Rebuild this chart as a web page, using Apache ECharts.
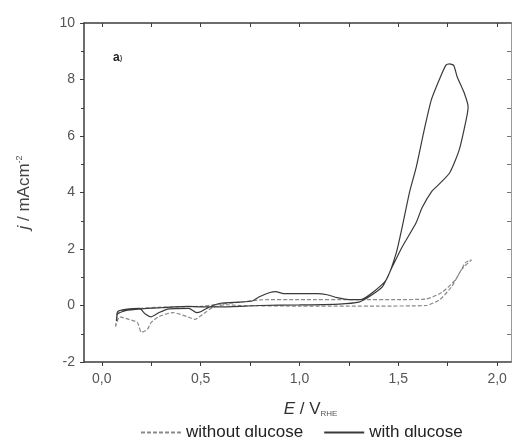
<!DOCTYPE html>
<html>
<head>
<meta charset="utf-8">
<script src="https://cdn.jsdelivr.net/npm/echarts@6/dist/echarts.min.js"></script>
<style>
  html, body { margin: 0; padding: 0; background: #fff; }
  #chart { width: 513px; height: 437px; }
</style>
</head>
<body>
<div id="chart"></div>
<script>
// tick positions (E in V, j in mA cm^-2)
const xLabelTicks = [0, 0.5, 1.0, 1.5, 2.0];
const xAllTicks = [0, 0.25, 0.5, 0.75, 1.0, 1.25, 1.5, 1.75, 2.0];
const yLabelTicks = [-2, 0, 2, 4, 6, 8, 10];

const seriesNames = ['without glucose', 'with glucose'];

// cyclic voltammogram without glucose: [E, j]
const withoutGlucose = [
  [0.07, -0.75], [0.08, -0.3], [0.12, -0.15], [0.2, -0.1], [0.3, -0.06],
  [0.5, -0.03], [0.6, 0.05], [0.7, 0.12], [0.8, 0.2], [1.0, 0.21],
  [1.3, 0.21], [1.5, 0.21], [1.64, 0.23], [1.72, 0.46], [1.79, 0.92],
  [1.84, 1.52], [1.87, 1.62],
  [1.82, 1.27], [1.77, 0.67], [1.71, 0.21], [1.64, 0.0], [1.4, -0.02],
  [1.0, -0.02], [0.7, 0.0], [0.63, 0.03], [0.56, -0.07], [0.51, -0.32],
  [0.47, -0.49], [0.43, -0.39], [0.36, -0.25], [0.29, -0.39], [0.25, -0.6],
  [0.23, -0.85], [0.2, -0.95], [0.18, -0.6], [0.14, -0.5], [0.09, -0.4],
  [0.07, -0.75]
];

// cyclic voltammogram with glucose: [E, j]
const withGlucose = [
  [0.075, -0.55], [0.08, -0.22], [0.12, -0.14], [0.19, -0.1], [0.22, -0.3],
  [0.25, -0.4], [0.29, -0.25], [0.34, -0.12], [0.44, -0.1], [0.48, -0.25],
  [0.5, -0.22], [0.54, -0.07], [0.6, 0.08], [0.7, 0.12], [0.76, 0.16],
  [0.8, 0.32], [0.85, 0.46], [0.88, 0.49], [0.92, 0.42], [1.0, 0.42],
  [1.09, 0.42], [1.14, 0.38], [1.19, 0.28], [1.25, 0.21], [1.31, 0.21],
  [1.37, 0.46], [1.44, 0.92], [1.49, 1.87], [1.52, 2.79], [1.556, 3.99],
  [1.591, 4.91], [1.631, 6.22], [1.667, 7.28], [1.707, 7.99], [1.74, 8.5],
  [1.758, 8.55], [1.78, 8.5], [1.798, 8.09], [1.833, 7.53], [1.853, 7.03],
  [1.843, 6.57], [1.808, 5.51], [1.76, 4.7], [1.7, 4.25], [1.67, 4.05],
  [1.62, 3.46], [1.59, 2.93], [1.52, 2.08], [1.47, 1.38], [1.42, 0.67],
  [1.354, 0.32], [1.3, 0.12], [1.2, 0.05], [1.0, 0.02], [0.8, 0.0],
  [0.7, -0.03], [0.6, -0.05], [0.5, -0.05], [0.44, -0.03], [0.3, -0.08],
  [0.2, -0.12], [0.12, -0.18], [0.08, -0.3], [0.075, -0.55]
];

const font = 'Liberation Sans, Arial, sans-serif';
const axisColor = '#3c3c3c';
const labelColor = '#555';

const chart = echarts.init(document.getElementById('chart'), null, { renderer: 'canvas' });

chart.setOption({
  animation: false,
  backgroundColor: '#fff',
  textStyle: { fontFamily: font },
  title: {
    text: '{b|a}{p|)}',
    left: 108,
    top: 47,
    textStyle: {
      rich: {
        b: { fontSize: 12, fontWeight: 'bold', color: '#222', fontFamily: font },
        p: { fontSize: 8, color: '#555', fontFamily: font }
      }
    }
  },
  grid: { left: 84, right: 2, top: 23, bottom: 75 },
  legend: {
    left: 135,
    top: 419,
    itemWidth: 40,
    itemHeight: 10,
    itemGap: 20,
    data: seriesNames,
    itemStyle: { opacity: 0 },
    textStyle: { fontSize: 17, color: '#222', fontFamily: font }
  },
  xAxis: [
    {
      type: 'value',
      min: -0.09,
      max: 2.07,
      splitLine: { show: false },
      axisLine: { onZero: false, lineStyle: { color: axisColor, width: 1.5 } },
      axisTick: { customValues: xAllTicks, length: 4, lineStyle: { color: axisColor } },
      axisLabel: {
        customValues: xLabelTicks,
        margin: 10,
        fontSize: 14,
        color: labelColor,
        formatter: v => v.toFixed(1).replace('.', ',')
      },
      name: '{i|E} / V{sub|RHE}',
      nameLocation: 'middle',
      nameGap: 38,
      nameTextStyle: {
        padding: [0, 0, 0, 26],
        rich: {
          i: { fontSize: 17, fontStyle: 'italic', color: '#333', fontFamily: font },
          sub: { fontSize: 8, color: '#555', verticalAlign: 'bottom', padding: [10, 0, 0, 0], fontFamily: font }
        },
        fontSize: 17,
        color: '#333'
      }
    },
    {
      type: 'value',
      position: 'top',
      min: -0.09,
      max: 2.07,
      splitLine: { show: false },
      axisLine: { onZero: false, lineStyle: { color: axisColor, width: 1.5 } },
      axisTick: { inside: true, customValues: xAllTicks, length: 4, lineStyle: { color: axisColor } },
      axisLabel: { show: false }
    }
  ],
  yAxis: [
    {
      type: 'value',
      min: -2,
      max: 10,
      interval: 2,
      splitLine: { show: false },
      axisLine: { show: true, onZero: false, lineStyle: { color: axisColor, width: 1.5 } },
      axisTick: { show: true, length: 4, lineStyle: { color: axisColor } },
      minorTick: { show: true, splitNumber: 2, length: 3, lineStyle: { color: axisColor } },
      axisLabel: { customValues: yLabelTicks, margin: 9, fontSize: 14, color: labelColor },
      name: '{i|j} / mAcm{sup|-2}',
      nameLocation: 'middle',
      nameGap: 50,
      nameTextStyle: {
        fontSize: 17,
        color: '#444',
        rich: {
          i: { fontSize: 17, fontStyle: 'italic', color: '#444', fontFamily: font },
          sup: { fontSize: 9, color: '#555', verticalAlign: 'top', padding: [0, 0, 10, 0], fontFamily: font }
        }
      }
    },
    {
      type: 'value',
      position: 'right',
      min: -2,
      max: 10,
      interval: 1,
      splitLine: { show: false },
      axisLine: { show: true, onZero: false, lineStyle: { color: '#999', width: 1 } },
      axisTick: { show: true, inside: true, length: 4, lineStyle: { color: '#777' } },
      axisLabel: { show: false }
    }
  ],
  series: [
    {
      name: seriesNames[0],
      type: 'line',
      data: withoutGlucose,
      symbol: 'none',
      smooth: 0.2,
      lineStyle: { color: '#8a8a8a', width: 1.2, type: [4, 2] },
      itemStyle: { color: '#8a8a8a' }
    },
    {
      name: seriesNames[1],
      type: 'line',
      data: withGlucose,
      symbol: 'none',
      smooth: 0.2,
      lineStyle: { color: '#3a3a3a', width: 1.2 },
      itemStyle: { color: '#3a3a3a' }
    }
  ]
});
</script>
</body>
</html>
